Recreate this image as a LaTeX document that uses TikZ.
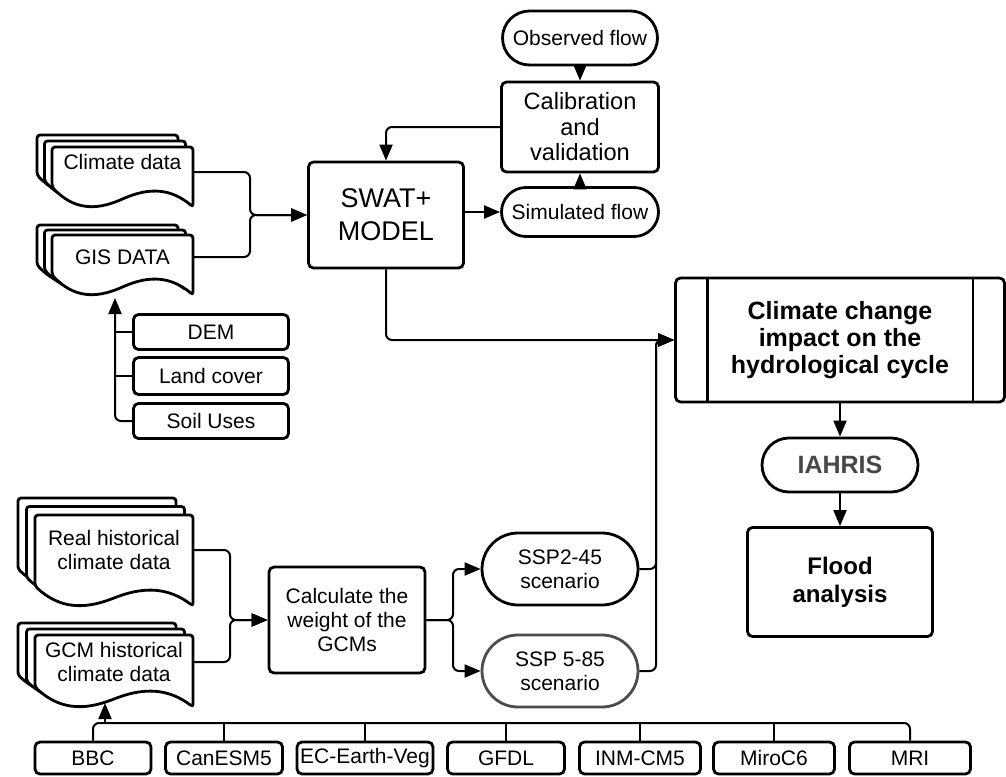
\documentclass[tikz,border=0pt]{standalone}
\usepackage{fontspec}
\setmainfont{Liberation Sans}
\usetikzlibrary{arrows.meta,shapes.misc,calc}
\newcommand\mydocpage[4]{%
  \filldraw[docpg] (#1,#2+#4-20) -- (#1,#2) -- (#1+#3,#2) -- (#1+#3,#2+#4)
    .. controls (#1+0.85*#3,#2+#4-18) and (#1+0.7*#3,#2+#4-20) .. (#1+0.5*#3,#2+#4-8)
    .. controls (#1+0.3*#3,#2+#4+4) and (#1+0.15*#3,#2+#4+2) .. (#1,#2+#4-20) -- cycle;}
\tikzset{
  txt/.style={font=\fontsize{10.5}{12}\selectfont},
  box/.style={draw, line width=1.4pt, rounded corners=2.5pt, align=center, inner sep=0pt, txt},
  term/.style={draw, line width=1.4pt, rounded rectangle, align=center, inner sep=0pt, txt},
  docpg/.style={draw, fill=white, line width=1.4pt, rounded corners=1.5pt},
  doctext/.style={align=center, inner sep=0pt, txt},
  conn/.style={line width=1pt, rounded corners=3pt, -{Triangle[length=8pt,width=6.5pt]}},
  plain/.style={line width=1pt, rounded corners=3pt},
}
\begin{document}
\begin{tikzpicture}[x=0.5pt,y=-0.5pt]
\useasboundingbox (0,0) rectangle (1006,776);

% top right
\node[term, minimum width=77.5pt, minimum height=27pt] (obs) at (580,38) {Observed flow};
\node[box, minimum width=78.5pt, minimum height=45pt, font=\fontsize{11.8}{12.75}\selectfont] (calib) at (580,127) {Calibration\\and\\validation};
\node[term, minimum width=78.5pt, minimum height=24.5pt] (sim) at (580,212) {Simulated flow};
\node[box, minimum width=77.5pt, minimum height=53pt, font=\fontsize{13.5}{16.5}\selectfont] (swat) at (386,215) {SWAT+\\MODEL};

% climate data doc
\mydocpage{37}{135}{141}{60}
\mydocpage{44.5}{141}{141}{60}
\mydocpage{52}{147}{141}{60}
\node[doctext, minimum width=70.5pt] (clim) at (122.5,162) {Climate data};
% GIS doc
\mydocpage{37}{225}{141}{60}
\mydocpage{44.5}{230}{141}{60}
\mydocpage{52}{235}{141}{60}
\node[doctext, minimum width=70.5pt] (gis) at (122.5,257) {GIS DATA};

\node[box, minimum width=77.5pt, minimum height=17.5pt] (dem) at (211,332) {DEM};
\node[box, minimum width=77.5pt, minimum height=18.5pt] (land) at (211,376) {Land cover};
\node[box, minimum width=77.5pt, minimum height=17.5pt] (soil) at (211,421) {Soil Uses};

% climate change
\node[box, minimum width=164.5pt, minimum height=62pt, font=\fontsize{12.5}{13.5}\selectfont\bfseries] (cc) at (840,340) {Climate change\\impact on the\\hydrological cycle};
\draw[line width=1.4pt] ([xshift=16.5pt]cc.north west) -- ([xshift=16.5pt]cc.south west);
\draw[line width=1.4pt] ([xshift=-16.5pt]cc.north east) -- ([xshift=-16.5pt]cc.south east);
\node[term, minimum width=78pt, minimum height=27pt, font=\fontsize{12.5}{14}\selectfont\bfseries, text=black!72] (iahris) at (840,465) {IAHRIS};
\node[box, minimum width=92.5pt, minimum height=54.5pt, font=\fontsize{12}{14}\selectfont\bfseries] (flood) at (840,582) {Flood\\analysis};

% bottom docs
\mydocpage{18}{498}{158}{91}
\mydocpage{26.5}{506.5}{158}{91}
\mydocpage{35}{515}{158}{91}
\node[doctext, minimum width=79pt] (real) at (114,550) {Real historical\\climate data};
\mydocpage{18}{623}{158}{72}
\mydocpage{26.5}{629}{158}{72}
\mydocpage{35}{635}{158}{72}
\node[doctext, minimum width=79pt] (gcm) at (114,662) {GCM historical\\climate data};

\node[box, minimum width=78pt, minimum height=53pt] (calc) at (347,620) {Calculate the\\weight of the\\GCMs};
\node[term, minimum width=78pt, minimum height=36pt] (ssp2) at (560,569) {SSP2-45\\scenario};
\node[term, minimum width=78pt, minimum height=36pt, draw=black!70] (ssp5) at (560,671) {SSP 5-85\\scenario};

% GCM boxes
\node[box, minimum width=58pt, minimum height=16pt] (bbc) at (93,758) {BBC};
\node[box, minimum width=58.5pt, minimum height=16pt] (can) at (224,758) {CanESM5};
\node[box, minimum width=68pt, minimum height=16pt] (ec) at (365,758) {EC-Earth-Veg};
\node[box, minimum width=58.5pt, minimum height=16pt] (gfdl) at (506,758) {GFDL};
\node[box, minimum width=60.5pt, minimum height=16pt] (inm) at (640,758) {INM-CM5};
\node[box, minimum width=60.5pt, minimum height=16pt] (miro) at (774,758) {MiroC6};
\node[box, minimum width=60.5pt, minimum height=16pt] (mri) at (910,758) {MRI};

% connectors
\coordinate (jc) at (250,215);
\coordinate (gisin) at (115,298);
\coordinate (jcc) at (656,340);
\coordinate (jcalc) at (230,620);
\coordinate (jsplit) at (453,620);
\coordinate (busR) at (910,723);
\coordinate (gcmin) at (105,703);

\draw[conn] (calib.west) -| (swat.north);
\draw[conn] (obs.south) -- (calib.north);
\draw[conn] (sim.north) -- (calib.south);
\draw[conn] (sim.west -| swat.east) -- (sim.west);
\draw[conn] ([yshift=-5pt]clim.east) -| (jc) -- (swat.west);
\draw[conn] (gis.east) -| (jc) -- (swat.west);
\draw[conn] (soil.west) -| (gisin);
\draw[plain] (dem.west) -- (dem.west -| gisin);
\draw[plain] (land.west) -- (land.west -| gisin);
\draw[conn] (swat.south) |- (cc.west);
\draw[conn] (ssp2.east) -| (jcc) -- (cc.west);
\draw[conn] (ssp5.east) -| (jcc) -- (cc.west);
\draw[conn] (cc.south) -- (iahris.north);
\draw[conn] (iahris.south) -- (flood.north);
\draw[conn] (real.east) -| (jcalc) -- (calc.west);
\draw[conn] (gcm.east) -| (jcalc) -- (calc.west);
\draw[conn] (calc.east) -- (jsplit) |- (ssp2.west);
\draw[conn] (calc.east) -- (jsplit) |- (ssp5.west);
\draw[plain] (bbc.north) |- (busR) -- (mri.north);
\foreach \n in {can,ec,gfdl,inm,miro} \draw[plain] (\n.north) -- (\n.north |- busR);
\draw[conn] (gcmin |- busR) -- (gcmin);
\end{tikzpicture}
\end{document}
